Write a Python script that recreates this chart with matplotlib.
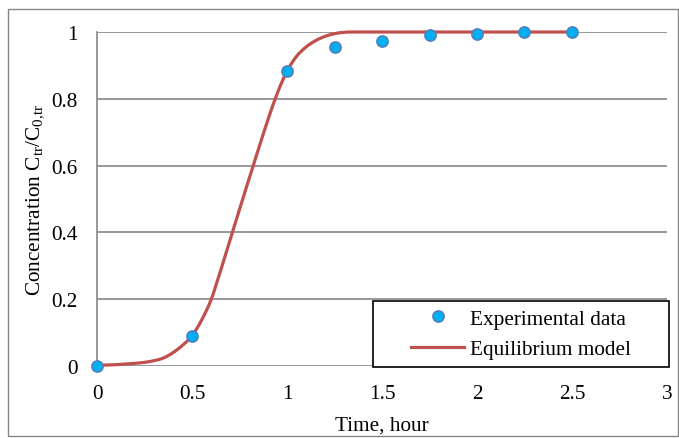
import matplotlib.pyplot as plt
from matplotlib.patches import Rectangle, PathPatch
from matplotlib.path import Path
from matplotlib.lines import Line2D

plt.rcParams['font.family'] = ['Liberation Serif', 'DejaVu Serif']
plt.rcParams['mathtext.fontset'] = 'custom'
plt.rcParams['mathtext.rm'] = 'Liberation Serif'
plt.rcParams['mathtext.it'] = 'Liberation Serif:italic'

# experimental data
exp_time = [0, 0.5, 1.0, 1.25, 1.5, 1.75, 2.0, 2.25, 2.5]
exp_conc = [0.0, 0.09, 0.883, 0.955, 0.973, 0.991, 0.994, 1.0, 1.0]

# equilibrium model curve
model_time = [0, 0.05, 0.1, 0.15, 0.2, 0.25, 0.3, 0.35, 0.4, 0.45, 0.5,
              0.55, 0.6, 0.65, 0.7, 0.75, 0.8, 0.85, 0.9, 0.95, 1.0, 1.05,
              1.1, 1.15, 1.2, 1.25, 1.3, 1.35, 1.5, 2.0, 2.5]
model_conc = [0.002, 0.003, 0.004, 0.006, 0.008, 0.011, 0.016, 0.024, 0.04,
              0.062, 0.09, 0.137, 0.198, 0.285, 0.377, 0.469, 0.56, 0.65,
              0.738, 0.818, 0.883, 0.927, 0.955, 0.974, 0.987, 0.995, 0.999,
              1.0, 1.0, 1.0, 1.0]

xticks = [0, 0.5, 1, 1.5, 2, 2.5, 3]
xtick_labels = ['0', '0.5', '1', '1.5', '2', '2.5', '3']
yticks = [0, 0.2, 0.4, 0.6, 0.8, 1]
ytick_labels = ['0', '0.2', '0.4', '0.6', '0.8', '1']

LINE_COLOR = '#C0504D'
FACE_COLOR = '#00B0F0'
EDGE_COLOR = '#4F81BD'
GRID_COLOR = '#868686'
FS = 15.3


def smooth_path(xs, ys):
    # Excel style smoothed line: Catmull-Rom segments as cubic Beziers
    verts = [(xs[0], ys[0])]
    codes = [Path.MOVETO]
    n = len(xs)
    for i in range(n - 1):
        x0, y0 = (xs[i - 1], ys[i - 1]) if i > 0 else (xs[i], ys[i])
        x1, y1 = xs[i], ys[i]
        x2, y2 = xs[i + 1], ys[i + 1]
        x3, y3 = (xs[i + 2], ys[i + 2]) if i + 2 < n else (x2, y2)
        c1 = (x1 + (x2 - x0) / 6, y1 + (y2 - y0) / 6)
        c2 = (x2 - (x3 - x1) / 6, y2 - (y3 - y1) / 6)
        verts += [c1, c2, (x2, y2)]
        codes += [Path.CURVE4] * 3
    return Path(verts, codes)


fig = plt.figure(figsize=(6.79, 4.39), dpi=100)
ax = fig.add_axes([0.1429, 0.164, 0.8394, 0.7608])

# outer chart frame
fig.patches.append(Rectangle((8 / 679, 2 / 439), 670 / 679, 427 / 439,
                             transform=fig.transFigure, fill=False,
                             edgecolor=GRID_COLOR, linewidth=1.0))

for y in yticks:
    ax.axhline(y, color=GRID_COLOR, linewidth=1.2, zorder=1)

ax.add_patch(PathPatch(smooth_path(model_time, model_conc), fill=False,
                       edgecolor=LINE_COLOR, linewidth=2.3, zorder=2,
                       clip_on=False, capstyle='round', joinstyle='round'))
ax.plot(exp_time, exp_conc, linestyle='none', marker='o', markersize=8,
        markerfacecolor=FACE_COLOR, markeredgecolor=EDGE_COLOR,
        markeredgewidth=1.2, zorder=3, clip_on=False)

ax.set_xlim(0, 3)
ax.set_ylim(0, 1)
ax.set_xticks(xticks)
ax.set_xticklabels(xtick_labels)
ax.set_yticks(yticks)
ax.set_yticklabels(ytick_labels)
ax.tick_params(length=0, labelsize=FS)
ax.tick_params(axis='x', pad=13)
ax.tick_params(axis='y', pad=14)

for side in ['top', 'right', 'bottom']:
    ax.spines[side].set_visible(False)
ax.spines['left'].set_color(GRID_COLOR)
ax.spines['left'].set_linewidth(1.2)

ax.set_xlabel('Time, hour', fontsize=FS, labelpad=9)
ax.set_ylabel(r'Concentration C$_\mathrm{tr}$/C$_\mathrm{0{,}tr}$',
              fontsize=FS, labelpad=4)

# legend box drawn separately so its padding matches the original
ax.add_patch(Rectangle((0.484, -0.003), 0.5195, 0.1976,
                       transform=ax.transAxes, facecolor='white',
                       edgecolor='black', linewidth=1.2, zorder=4,
                       clip_on=False))
handles = [
    Line2D([], [], linestyle='none', marker='o', markersize=8,
           markerfacecolor=FACE_COLOR, markeredgecolor=EDGE_COLOR,
           markeredgewidth=1.2),
    Line2D([], [], color=LINE_COLOR, linewidth=2.3),
]
labels = ['Experimental data', 'Equilibrium model']
leg = ax.legend(handles, labels, loc='center',
                bbox_to_anchor=(0.7438, 0.0958), fontsize=FS,
                frameon=False, handlelength=2.5, handletextpad=0.24,
                borderpad=0, labelspacing=0.5, borderaxespad=0)
leg.set_zorder(5)

fig.savefig('out.png', dpi=100)
